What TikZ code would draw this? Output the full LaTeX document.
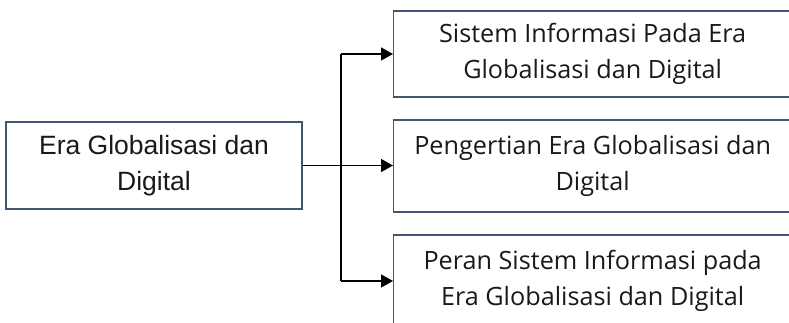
\documentclass[tikz,border=0pt]{standalone}
\usepackage{fontspec}
\setmainfont{Liberation Sans}
\newfontfamily\boxfont{Open Sans}
\usetikzlibrary{arrows.meta}
\definecolor{boxline}{RGB}{66,86,116}
\definecolor{textgray}{RGB}{25,25,25}
\tikzset{
  srcbox/.style={draw=boxline, line width=1.3pt, rectangle, align=center,
    minimum width=296pt, minimum height=87pt, inner sep=0pt, text=textgray,
    font=\fontsize{26.5}{36}\selectfont},
  topicbox/.style={draw=boxline, line width=1.3pt, rectangle, align=center,
    minimum width=398pt, inner sep=0pt, text=textgray,
    font=\boxfont\fontsize{25.2}{36}\selectfont},
  link/.style={line width=1.4pt, black},
  linkarrow/.style={link, -{Triangle[length=12pt,width=13pt]}}
}
\begin{document}
\begin{tikzpicture}[x=1pt,y=-1pt]
  \useasboundingbox (0,0) rectangle (789,323);
  \clip (0,0) rectangle (789,323);

  % source box on the left
  \node[srcbox] (src) at (154,165.5) {Era Globalisasi dan\\Digital};

  % three topic boxes, running past the right edge
  \node[topicbox, minimum height=86pt, anchor=west] (top) at (393,54)
    {Sistem Informasi Pada Era\\Globalisasi dan Digital};
  \node[topicbox, minimum height=92pt, anchor=west] (mid) at (393,166)
    {Pengertian Era Globalisasi dan\\Digital};
  \node[topicbox, minimum height=92pt, anchor=west] (bot) at (393,281)
    {Peran Sistem Informasi pada\\Era Globalisasi dan Digital};

  % vertical bus
  \coordinate (bus) at (341,0);
  \coordinate (busTop) at (bus |- top.west);
  \coordinate (busBot) at (bus |- bot.west);

  \draw[link] (busTop) -- (busBot);
  \draw[linkarrow] (src.east) -- (src.east -| mid.west);
  \draw[linkarrow] (busTop) -- (top.west);
  \draw[linkarrow] (busBot) -- (bot.west);
\end{tikzpicture}
\end{document}
